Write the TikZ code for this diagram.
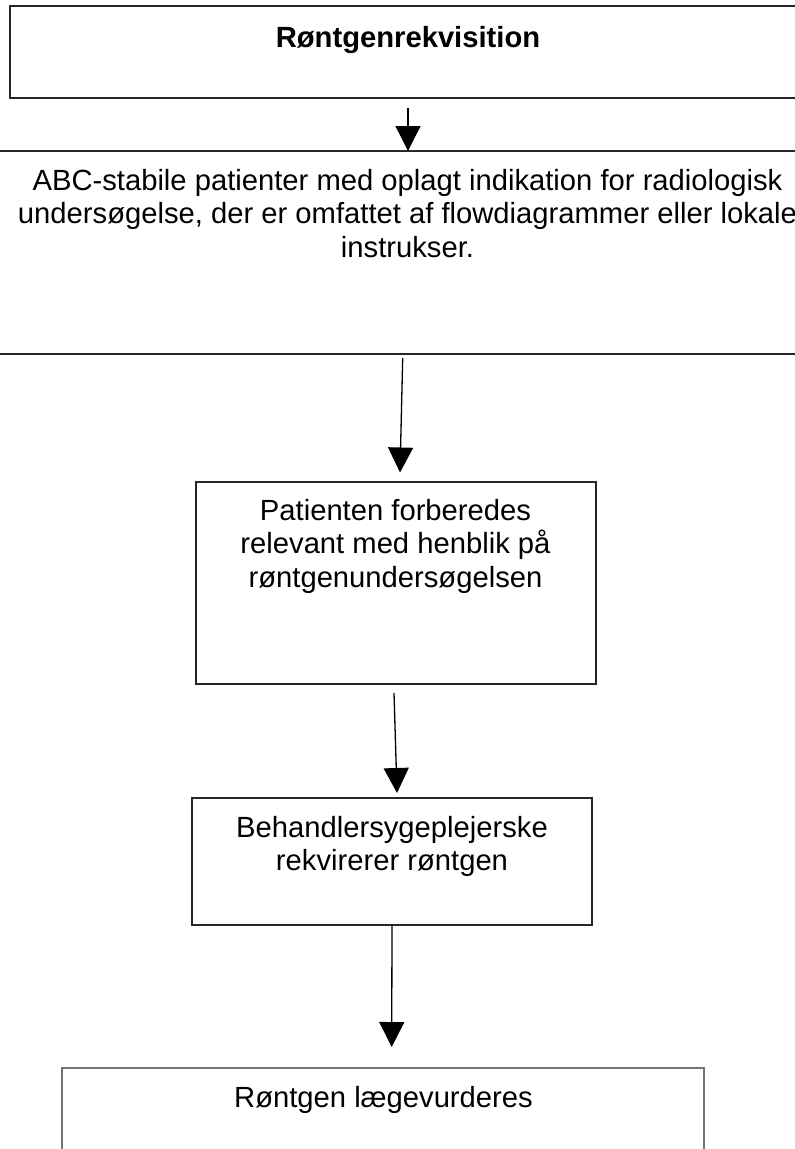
\documentclass[tikz,border=0pt]{standalone}
\usepackage{fontspec}
\setmainfont{Liberation Sans}
\usetikzlibrary{arrows.meta}

\begin{document}
\begin{tikzpicture}[x=1pt, y=-1pt,
  box/.style={draw=black!85, line width=1.2pt, inner sep=0pt, outer sep=0pt, anchor=north west},
  txt/.style={align=center, inner sep=0pt, outer sep=0pt, anchor=base,
              font=\fontsize{29.2}{33.5}\selectfont},
  arr/.style={draw=black, line width=1.3pt, -{Triangle[length=25pt,width=25pt]}}]

  % page frame
  \useasboundingbox (0,0) rectangle (795,1149);
  \clip (0,0) rectangle (795,1149);

  % boxes
  \node[box, minimum width=796pt, minimum height=92pt]  (b1) at (10,6) {};
  \node[box, minimum width=836pt, minimum height=203pt] (b2) at (-10,151) {};
  \node[box, minimum width=400pt, minimum height=202pt] (b3) at (196,482) {};
  \node[box, minimum width=400pt, minimum height=127pt] (b4) at (192,798) {};
  \node[box, draw=black!55, line width=1.5pt, minimum width=642pt, minimum height=150pt] (b5) at (62,1068) {};

  % box texts (base anchor sits on the last line)
  \node[txt, font=\fontsize{29.2}{33.5}\selectfont\bfseries] (t1) at (408,47) {Røntgenrekvisition};
  \node[txt] (t2) at (407.5,257) {ABC-stabile patienter med oplagt indikation for radiologisk\\
    undersøgelse, der er omfattet af flowdiagrammer eller lokale\\ instrukser.};
  \node[txt] (t3) at (395.5,587) {Patienten forberedes\\ relevant med henblik på\\ røntgenundersøgelsen};
  \node[txt] (t4) at (392,870.5) {Behandlersygeplejerske\\ rekvirerer røntgen};
  \node[txt] (t5) at (383.5,1107) {Røntgen lægevurderes};

  % connector ends
  \coordinate (a1s) at (408,108);
  \coordinate (a1e) at (408,151);
  \coordinate (a2s) at (402.7,358);
  \coordinate (a2e) at (400,472.5);
  \coordinate (a3s) at (394,693);
  \coordinate (a3e) at (397,793);
  \coordinate (a4s) at (392,925);
  \coordinate (a4e) at (391.7,1047);

  % connectors
  \draw[arr] (a1s) -- (a1e);
  \draw[arr] (a2s) -- (a2e);
  \draw[arr] (a3s) -- (a3e);
  \draw[arr] (a4s) -- (a4e);
\end{tikzpicture}
\end{document}
